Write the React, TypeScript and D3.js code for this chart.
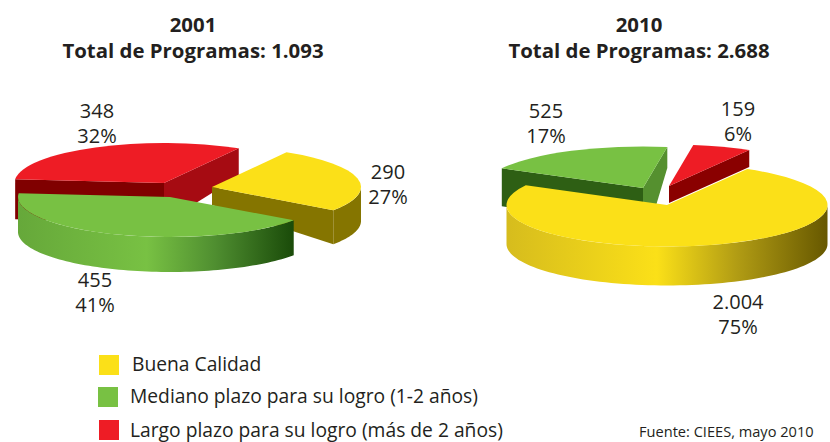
import React from "react";
import * as d3 from "d3";

const categories = ["Buena Calidad", "Mediano plazo para su logro (1-2 años)", "Largo plazo para su logro (más de 2 años)"];
const values2001 = [290, 455, 348];
const labels2001 = [["290", "27%"], ["455", "41%"], ["348", "32%"]];
const values2010 = [2004, 525, 159];
const labels2010 = [["2.004", "75%"], ["525", "17%"], ["159", "6%"]];
const titles2001 = ["2001", "Total de Programas: 1.093"];
const titles2010 = ["2010", "Total de Programas: 2.688"];
const source = "Fuente: CIEES, mayo 2010";

const FONT = "'Open Sans', Lato, sans-serif";
const TEXT = "#231f20";
const TOP = ["#fbe018", "#78c143", "#ee1c25"];
const rad = (d: number) => (d * Math.PI) / 180;

type Wall = { fill: string; a: number; b: number };
type SliceStyle = {
  apex: [number, number]; depth: number; rx: number;
  startWall?: Wall;
  endWall?: Wall;
  rim?: string;
  label: [number, number];
};

function pieLayout(values: number[]) {
  return d3.pie<number>().sort(null).startAngle(rad(30)).endAngle(rad(390))(values);
}

function Pie({ values, labels, styles, order, ry }: {
  values: number[]; labels: string[][]; styles: SliceStyle[]; order: number[]; ry: number;
}) {
  const arcs = pieLayout(values);
  const arc = d3.arc();
  const line = d3.line();
  return (
    <g>
      {order.map((i) => {
        const a = arcs[i], s = styles[i];
        const [ax, ay] = s.apex;
        const rx = s.rx;
        const pt = (t: number, dy = 0): [number, number] => [ax + rx * Math.sin(t), ay - ry * Math.cos(t) + dy];
        const wall = (t: number, w: Wall) => {
          const e = pt(t);
          return (
            <path fill={w.fill} d={line([[ax, ay], e, [e[0], e[1] + w.b], [ax, ay + w.a]])! + "Z"} />
          );
        };
        let rimPath: string | null = null;
        const r0 = Math.max(a.startAngle, rad(90)), r1 = Math.min(a.endAngle, rad(270));
        if (s.rim && r1 > r0) {
          const n = 80;
          const ts = d3.range(n + 1).map((k) => r0 + ((r1 - r0) * k) / n);
          rimPath = line([...ts.map((t) => pt(t)), ...ts.slice().reverse().map((t) => pt(t, s.depth))])! + "Z";
        }
        const top = arc({ innerRadius: 0, outerRadius: rx, startAngle: a.startAngle, endAngle: a.endAngle } as any)!;
        return (
          <g key={i}>
            {s.startWall && wall(a.startAngle, s.startWall)}
            {s.endWall && wall(a.endAngle, s.endWall)}
            {rimPath && <path d={rimPath} fill={s.rim} />}
            <path d={top} fill={TOP[i]} transform={`translate(${ax},${ay}) scale(1,${ry / rx})`} />
          </g>
        );
      })}
      {labels.map((l, i) => (
        <text key={i} textAnchor="middle" fontFamily={FONT} fontSize={20} fill={TEXT}>
          <tspan x={styles[i].label[0]} y={styles[i].label[1]}>{l[0]}</tspan>
          <tspan x={styles[i].label[0]} y={styles[i].label[1] + 24.5}>{l[1]}</tspan>
        </text>
      ))}
    </g>
  );
}

const styles2001: SliceStyle[] = [
  { apex: [212, 187], depth: 34, rx: 149, rim: "#857500",
    endWall: { fill: "#857500", a: 18, b: 34 }, label: [388, 179] },
  { apex: [170, 197], depth: 35, rx: 152, rim: "url(#g2001)", label: [95, 287] },
  { apex: [164, 183], depth: 40, rx: 149.5,
    startWall: { fill: "#800000", a: 40, b: 40 },
    endWall: { fill: "#a60b12", a: 40, b: 28 }, label: [97, 118] },
];
const styles2010: SliceStyle[] = [
  { apex: [667, 205], depth: 39, rx: 160.5, rim: "url(#g2010)", label: [738, 309] },
  { apex: [643, 188], depth: 38, rx: 160.5,
    startWall: { fill: "#2e5f14", a: 38, b: 38 },
    endWall: { fill: "#55902f", a: 61, b: 21 }, label: [546, 118] },
  { apex: [669, 186], depth: 17, rx: 160.5,
    endWall: { fill: "#8a0000", a: 17, b: 17 }, label: [738, 116] },
];

const legendY = [355, 387, 420];
const legendRectX = [99, 98, 99];
const legendTextX = [132, 130, 130];
const legendBase = [371, 403, 437];

export default function App() {
  return (
    <svg width={830} height={442} style={{ position: "absolute", left: 0, top: 0, background: "#fff" }}>
      <defs>
        <linearGradient id="g2001" gradientUnits="userSpaceOnUse" x1={18} x2={292} y1={0} y2={0}>
          <stop offset="0" stopColor="#66a83a" />
          <stop offset="0.47" stopColor="#78c143" />
          <stop offset="0.72" stopColor="#4f8e30" />
          <stop offset="1" stopColor="#1b4c0a" />
        </linearGradient>
        <linearGradient id="g2010" gradientUnits="userSpaceOnUse" x1={506} x2={827} y1={0} y2={0}>
          <stop offset="0" stopColor="#d6bc1d" />
          <stop offset="0.47" stopColor="#fbe018" />
          <stop offset="0.72" stopColor="#b19c14" />
          <stop offset="1" stopColor="#675800" />
        </linearGradient>
      </defs>
      {[titles2001, titles2010].map((t, i) => (
        <text key={i} textAnchor="middle" fontFamily={FONT} fontWeight={700} fontSize={20.4} fill={TEXT}>
          <tspan x={i ? 639 : 193} y={32}>{t[0]}</tspan>
          <tspan x={i ? 639 : 193} y={58}>{t[1]}</tspan>
        </text>
      ))}
      <Pie values={values2001} labels={labels2001} styles={styles2001} order={[2, 0, 1]} ry={40} />
      <Pie values={values2010} labels={labels2010} styles={styles2010} order={[1, 2, 0]} ry={41.5} />
      {categories.map((c, i) => (
        <g key={c}>
          <rect x={legendRectX[i]} y={legendY[i]} width={20} height={20} fill={TOP[i]} />
          <text x={legendTextX[i]} y={legendBase[i]} fontFamily={FONT} fontSize={19.25} fill={TEXT}>{c}</text>
        </g>
      ))}
      <text x={639} y={437} fontFamily={FONT} fontSize={14.6} fill={TEXT}>{source}</text>
    </svg>
  );
}
